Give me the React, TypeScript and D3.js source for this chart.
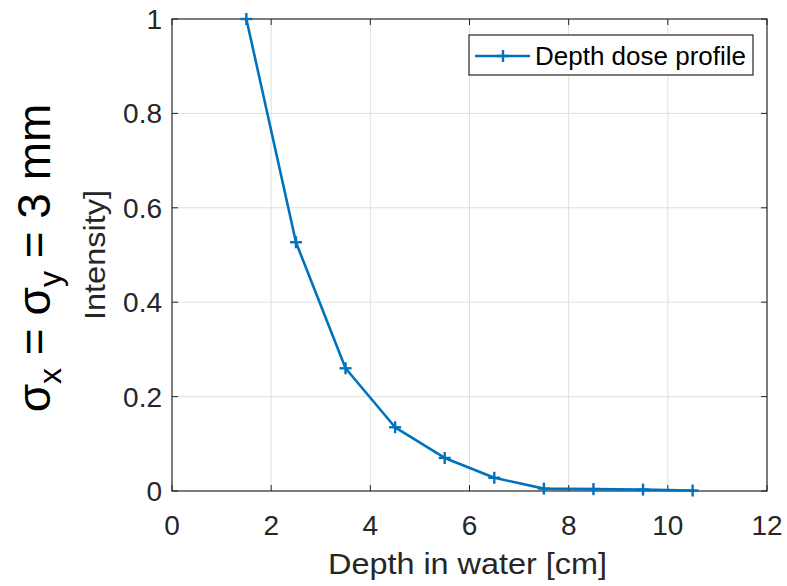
import React from "react";
import * as d3 from "d3";

const depths = [1.5, 2.5, 3.5, 4.5, 5.5, 6.5, 7.5, 8.5, 9.5, 10.5];
const intensity = [1.0, 0.527, 0.26, 0.135, 0.07, 0.028, 0.005, 0.004, 0.003, 0.001];
const xTicks = [0, 2, 4, 6, 8, 10, 12];
const yTicks = [0, 0.2, 0.4, 0.6, 0.8, 1];
const seriesName = "Depth dose profile";
const xLabel = "Depth in water [cm]";
const yLabel = "Intensity]";

export default function App() {
  const W = 787, H = 586;
  const left = 172, right = 767, top = 19, bottom = 491;
  const x = d3.scaleLinear().domain([0, 12]).range([left, right]);
  const y = d3.scaleLinear().domain([0, 1]).range([bottom, top]);
  const pts: [number, number][] = depths.map((d, i) => [d, intensity[i]]);
  const line = d3.line<[number, number]>().x(d => x(d[0])).y(d => y(d[1]));
  const font = "Liberation Sans, Arial, sans-serif";
  const axisCol = "#262626";
  const blue = "#0072BD";
  const m = 6;
  return (
    <svg width={W} height={H} style={{ position: "absolute", left: 0, top: 0, background: "#fff" }}>
      <rect x={0} y={0} width={W} height={H} fill="#fff" />
      {/* grid */}
      {xTicks.slice(1, -1).map(t => (
        <line key={"gx" + t} x1={x(t)} x2={x(t)} y1={top} y2={bottom} stroke="#dfdfdf" strokeWidth={1} />
      ))}
      {yTicks.slice(1, -1).map(t => (
        <line key={"gy" + t} x1={left} x2={right} y1={y(t)} y2={y(t)} stroke="#dfdfdf" strokeWidth={1} />
      ))}
      {/* ticks */}
      {xTicks.map(t => (
        <g key={"tx" + t}>
          <line x1={x(t)} x2={x(t)} y1={bottom} y2={bottom - 6} stroke={axisCol} strokeWidth={1} />
          <line x1={x(t)} x2={x(t)} y1={top} y2={top + 6} stroke={axisCol} strokeWidth={1} />
          <text x={x(t)} y={bottom + 44} textAnchor="middle" fontFamily={font} fontSize={28} fill={axisCol}>{t}</text>
        </g>
      ))}
      {yTicks.map(t => (
        <g key={"ty" + t}>
          <line x1={left} x2={left + 6} y1={y(t)} y2={y(t)} stroke={axisCol} strokeWidth={1} />
          <line x1={right} x2={right - 6} y1={y(t)} y2={y(t)} stroke={axisCol} strokeWidth={1} />
          <text x={left - 10} y={y(t) + 10} textAnchor="end" fontFamily={font} fontSize={28} fill={axisCol}>{d3.format("~g")(t)}</text>
        </g>
      ))}
      {/* box */}
      <rect x={left} y={top} width={right - left} height={bottom - top} fill="none" stroke={axisCol} strokeWidth={1.2} />
      {/* series */}
      <path d={line(pts) || ""} fill="none" stroke={blue} strokeWidth={2.6} strokeLinejoin="round" />
      {pts.map((p, i) => (
        <g key={"m" + i} stroke={blue} strokeWidth={2.4}>
          <line x1={x(p[0]) - m} x2={x(p[0]) + m} y1={y(p[1])} y2={y(p[1])} />
          <line x1={x(p[0])} x2={x(p[0])} y1={y(p[1]) - m} y2={y(p[1]) + m} />
        </g>
      ))}
      {/* legend */}
      <rect x={469} y={35} width={284} height={40} fill="#fff" stroke={axisCol} strokeWidth={1.2} />
      <line x1={475} x2={530} y1={56} y2={56} stroke={blue} strokeWidth={2.6} />
      <line x1={497} x2={509} y1={56} y2={56} stroke={blue} strokeWidth={2.4} />
      <line x1={503} x2={503} y1={50} y2={62} stroke={blue} strokeWidth={2.4} />
      <text x={535} y={65} fontFamily={font} fontSize={25} textLength={211} lengthAdjust="spacingAndGlyphs" fill="#000">{seriesName}</text>
      {/* axis labels */}
      <text x={(328 + 607) / 2} y={574} textAnchor="middle" fontFamily={font} fontSize={29} textLength={279} lengthAdjust="spacingAndGlyphs" fill={axisCol}>{xLabel}</text>
      <text transform={`translate(105,255) rotate(-90)`} textAnchor="middle" fontFamily={font} fontSize={30} textLength={130} lengthAdjust="spacingAndGlyphs" fill={axisCol}>{yLabel}</text>
      <text transform={`translate(50,258) rotate(-90)`} textAnchor="middle" fontFamily={font} fontSize={46} fill="#000">
        σ<tspan fontSize={32} dy={11}>x</tspan><tspan dy={-11}> = σ</tspan><tspan fontSize={32} dy={11}>y</tspan><tspan dy={-11}> = 3 mm</tspan>
      </text>
    </svg>
  );
}
